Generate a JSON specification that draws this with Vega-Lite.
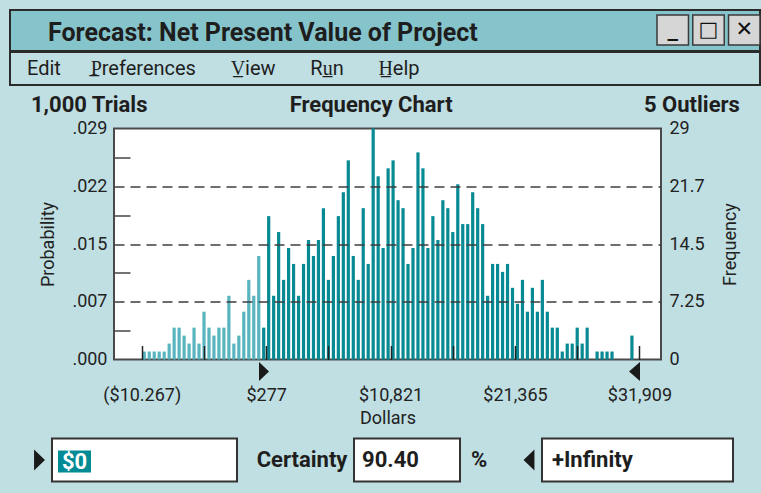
{
  "$schema": "https://vega.github.io/schema/vega-lite/v6.json",
  "background": "#c0dfe3",
  "padding": {"left": 9, "top": 9, "right": 0, "bottom": 13},
  "config": {
    "font": "Roboto",
    "view": {"stroke": null},
    "axis": {"labelFont": "Roboto", "titleFont": "Roboto", "labelColor": "#222", "titleColor": "#222"},
    "title": {"font": "Roboto"}
  },
  "spacing": 6.5,
  "vconcat": [
    {
      "spacing": -2,
      "vconcat": [
        {
          "width": 750, "height": 41,
          "view": {"fill": "#86c4cc", "stroke": "#2b2b2b", "strokeWidth": 2},
          "layer": [
            {
              "data": {"values": [{"window": "Forecast: Net Present Value of Project"}]},
              "mark": {"type": "text", "align": "left", "baseline": "middle", "fontSize": 25, "fontWeight": "bold", "color": "#1e1e1e"},
              "encoding": {
                "x": {"field": "window", "type": "nominal", "scale": {"type": "point", "align": 0.0507}, "axis": null},
                "y": {"field": "window", "type": "nominal", "scale": {"type": "point", "align": 0.57}, "axis": null},
                "text": {"field": "window"}
              }
            },
            {
              "data": {"values": [
                {"button": "Minimize", "glyph": "_"},
                {"button": "Maximize", "glyph": "□"},
                {"button": "Close", "glyph": "✕"}
              ]},
              "encoding": {
                "x": {"field": "button", "type": "nominal", "sort": null, "scale": {"type": "band", "range": [647, 750], "paddingInner": 0.12, "paddingOuter": 0}, "axis": null},
                "y": {"datum": "button", "type": "nominal", "scale": {"type": "band", "range": [5, 35], "paddingInner": 0, "paddingOuter": 0}, "axis": null}
              },
              "layer": [
                {"mark": {"type": "rect", "fill": "#d6d6d6", "stroke": "#3a3a3a", "strokeWidth": 1.5}},
                {"mark": {"type": "text", "font": "DejaVu Sans", "fontSize": 21, "fontWeight": "bold", "color": "#111"}, "encoding": {"text": {"field": "glyph"}}}
              ]
            }
          ],
          "resolve": {"scale": {"x": "independent", "y": "independent"}}
        },
        {
          "width": 750, "height": 33,
          "view": {"fill": "#c0dfe3", "stroke": "#2b2b2b", "strokeWidth": 2},
          "data": {"values": [{"menu": "Edit\u00a0\u00a0\u00a0\u00a0\u00a0\u00a0P\u0332references\u00a0\u00a0\u00a0\u00a0\u00a0\u00a0\u00a0V\u0332iew\u00a0\u00a0\u00a0\u00a0\u00a0\u00a0\u00a0Ru\u0332n\u00a0\u00a0\u00a0\u00a0\u00a0\u00a0\u00a0H\u0332elp"}]},
          "mark": {"type": "text", "align": "left", "fontSize": 20, "color": "#1e1e1e"},
          "encoding": {
            "x": {"field": "menu", "type": "nominal", "scale": {"type": "point", "align": 0.0227}, "axis": null},
            "text": {"field": "menu"}
          }
        }
      ]
    },
    {
      "spacing": 9,
      "vconcat": [
        {
          "spacing": 0,
          "hconcat": [
            {"width": 20, "height": 1, "data": {"values": []}, "mark": "point"},
            {
              "width": 547, "height": 231,
              "view": {"fill": "white", "stroke": "#4a4a4a", "strokeWidth": 2},
              "title": {
                "text": "1,000 Trials\u00a0\u00a0\u00a0\u00a0\u00a0\u00a0\u00a0\u00a0\u00a0\u00a0\u00a0\u00a0\u00a0\u00a0\u00a0\u00a0\u00a0\u00a0\u00a0\u00a0\u00a0\u00a0\u00a0\u00a0\u00a0\u00a0Frequency Chart\u00a0\u00a0\u00a0\u00a0\u00a0\u00a0\u00a0\u00a0\u00a0\u00a0\u00a0\u00a0\u00a0\u00a0\u00a0\u00a0\u00a0\u00a0\u00a0\u00a0\u00a0\u00a0\u00a0\u00a0\u00a0\u00a0\u00a0\u00a0\u00a0\u00a0\u00a0\u00a0\u00a0\u00a0\u00a05 Outliers",
                "anchor": "start", "frame": "group", "dx": -83, "offset": 2.5,
                "fontSize": 22, "fontWeight": "bold", "color": "#1e1e1e"
              },
              "layer": [
                {
                  "data": {"values": [
                    {"dollars": -10056, "frequency": 1}, {"dollars": -9634, "frequency": 1}, {"dollars": -9213, "frequency": 1},
                    {"dollars": -8791, "frequency": 1}, {"dollars": -8369, "frequency": 1}, {"dollars": -7947, "frequency": 2},
                    {"dollars": -7526, "frequency": 4}, {"dollars": -7104, "frequency": 4}, {"dollars": -6682, "frequency": 3},
                    {"dollars": -6260, "frequency": 2}, {"dollars": -5839, "frequency": 4}, {"dollars": -5417, "frequency": 2},
                    {"dollars": -4995, "frequency": 6}, {"dollars": -4573, "frequency": 4}, {"dollars": -4152, "frequency": 3},
                    {"dollars": -3730, "frequency": 4}, {"dollars": -3308, "frequency": 4}, {"dollars": -2886, "frequency": 8},
                    {"dollars": -2464, "frequency": 2}, {"dollars": -2043, "frequency": 3}, {"dollars": -1621, "frequency": 6},
                    {"dollars": -1199, "frequency": 10}, {"dollars": -777, "frequency": 8}, {"dollars": -356, "frequency": 13},
                    {"dollars": 66, "frequency": 4}, {"dollars": 488, "frequency": 18}, {"dollars": 909, "frequency": 8},
                    {"dollars": 1331, "frequency": 16}, {"dollars": 1753, "frequency": 10}, {"dollars": 2175, "frequency": 14},
                    {"dollars": 2597, "frequency": 12}, {"dollars": 3018, "frequency": 8}, {"dollars": 3440, "frequency": 12},
                    {"dollars": 3862, "frequency": 15}, {"dollars": 4284, "frequency": 13}, {"dollars": 4706, "frequency": 15},
                    {"dollars": 5127, "frequency": 19}, {"dollars": 5549, "frequency": 10}, {"dollars": 5971, "frequency": 13},
                    {"dollars": 6393, "frequency": 18}, {"dollars": 6814, "frequency": 21}, {"dollars": 7236, "frequency": 25},
                    {"dollars": 7658, "frequency": 13}, {"dollars": 8080, "frequency": 10}, {"dollars": 8501, "frequency": 19},
                    {"dollars": 8923, "frequency": 12}, {"dollars": 9345, "frequency": 29}, {"dollars": 9767, "frequency": 23},
                    {"dollars": 10188, "frequency": 14}, {"dollars": 10610, "frequency": 24}, {"dollars": 11032, "frequency": 25},
                    {"dollars": 11454, "frequency": 20}, {"dollars": 11875, "frequency": 19}, {"dollars": 12297, "frequency": 12},
                    {"dollars": 12719, "frequency": 14}, {"dollars": 13141, "frequency": 26}, {"dollars": 13562, "frequency": 24},
                    {"dollars": 13984, "frequency": 14}, {"dollars": 14406, "frequency": 18}, {"dollars": 14828, "frequency": 15},
                    {"dollars": 15250, "frequency": 20}, {"dollars": 15671, "frequency": 19}, {"dollars": 16093, "frequency": 16},
                    {"dollars": 16515, "frequency": 22}, {"dollars": 16937, "frequency": 17}, {"dollars": 17358, "frequency": 17},
                    {"dollars": 17780, "frequency": 21}, {"dollars": 18202, "frequency": 19}, {"dollars": 18623, "frequency": 17},
                    {"dollars": 19045, "frequency": 8}, {"dollars": 19467, "frequency": 12}, {"dollars": 19889, "frequency": 12},
                    {"dollars": 20311, "frequency": 11}, {"dollars": 20732, "frequency": 12}, {"dollars": 21154, "frequency": 9},
                    {"dollars": 21576, "frequency": 7}, {"dollars": 21998, "frequency": 10}, {"dollars": 22419, "frequency": 6},
                    {"dollars": 22841, "frequency": 9}, {"dollars": 23263, "frequency": 6}, {"dollars": 23685, "frequency": 10},
                    {"dollars": 24106, "frequency": 6}, {"dollars": 24528, "frequency": 4}, {"dollars": 24950, "frequency": 4},
                    {"dollars": 25372, "frequency": 1}, {"dollars": 25793, "frequency": 2}, {"dollars": 26215, "frequency": 2},
                    {"dollars": 26637, "frequency": 4}, {"dollars": 27059, "frequency": 2}, {"dollars": 27481, "frequency": 4},
                    {"dollars": 27902, "frequency": 0}, {"dollars": 28324, "frequency": 1}, {"dollars": 28746, "frequency": 1},
                    {"dollars": 29168, "frequency": 1}, {"dollars": 29589, "frequency": 1}, {"dollars": 30011, "frequency": 0},
                    {"dollars": 30433, "frequency": 0}, {"dollars": 30855, "frequency": 0}, {"dollars": 31276, "frequency": 3},
                    {"dollars": 31698, "frequency": 0}
                  ]},
                  "mark": {"type": "bar", "width": 3.2},
                  "encoding": {
                    "x": {
                      "field": "dollars", "type": "quantitative",
                      "scale": {"domain": [-12623, 33740], "nice": false, "zero": false, "padding": 0},
                      "axis": {
                        "title": "Dollars",
                        "values": [-10267, -4995, 277, 5549, 10821, 16093, 21365, 26637, 31909],
                        "labelExpr": "datum.value == -10267 ? '($10.267)' : datum.value == 277 ? '$277' : datum.value == 10821 ? '$10,821' : datum.value == 21365 ? '$21,365' : datum.value == 31909 ? '$31,909' : ''",
                        "tickSize": -14, "tickColor": "#222", "tickWidth": 1.5,
                        "domain": false, "grid": false,
                        "labelPadding": 40.5, "labelFontSize": 18, "labelFlush": false, "labelOverlap": false,
                        "titleFontSize": 18, "titleFontWeight": "normal", "titlePadding": 5,
                        "zindex": 1
                      }
                    },
                    "y": {
                      "field": "frequency", "type": "quantitative",
                      "scale": {"domain": [0, 29], "nice": false},
                      "axis": {
                        "orient": "left", "title": "Probability",
                        "values": [0, 3.625, 7.25, 10.875, 14.5, 18.125, 21.75, 25.375, 29],
                        "labelExpr": "datum.value == 0 ? '.000' : datum.value == 7.25 ? '.007' : datum.value == 14.5 ? '.015' : datum.value == 21.75 ? '.022' : datum.value == 29 ? '.029' : ''",
                        "tickSize": -16, "tickColor": "#444", "tickWidth": 1.5,
                        "tickOpacity": {"condition": {"test": "datum.value % 7.25 == 0", "value": 0}, "value": 1},
                        "grid": true, "gridColor": "#3d3d3d", "gridDash": [10, 6], "gridWidth": 1.5,
                        "gridOpacity": {"condition": {"test": "datum.value > 0 && datum.value < 29 && datum.value % 7.25 == 0", "value": 1}, "value": 0},
                        "domain": false,
                        "labelPadding": 23, "labelFontSize": 18, "labelOverlap": false,
                        "titleFontSize": 18, "titleFontWeight": "normal", "titlePadding": 14,
                        "zindex": 1
                      }
                    },
                    "color": {"condition": {"test": "datum.dollars < 0", "value": "#58b4bf"}, "value": "#078a93"}
                  }
                },
                {
                  "data": {"values": [
                    {"bound": "Lower certainty bound", "dollars": 0},
                    {"bound": "Upper certainty bound", "dollars": 31909}
                  ]},
                  "mark": {"type": "point", "filled": true, "size": 400, "opacity": 1, "strokeWidth": 0},
                  "encoding": {
                    "x": {"field": "dollars", "type": "quantitative"},
                    "y": {
                      "datum": 0, "type": "quantitative",
                      "axis": {
                        "orient": "right", "title": "Frequency",
                        "values": [0, 7.25, 14.5, 21.75, 29],
                        "labelExpr": "datum.value == 0 ? '0' : datum.value == 7.25 ? '7.25' : datum.value == 14.5 ? '14.5' : datum.value == 21.75 ? '21.7' : '29'",
                        "ticks": false, "domain": false, "grid": false,
                        "labelPadding": 8, "labelFontSize": 18, "labelOverlap": false,
                        "titleFontSize": 18, "titleFontWeight": "normal", "titleAngle": 270, "titlePadding": 35
                      }
                    },
                    "shape": {
                      "field": "bound", "type": "nominal",
                      "scale": {"domain": ["Lower certainty bound", "Upper certainty bound"], "range": ["M-0.39,0.25L0.61,1.2L-0.39,2.15Z", "M0.06,0.25L-1.04,1.2L0.06,2.15Z"]},
                      "legend": null
                    },
                    "color": {"value": "#1a1a1a"}
                  }
                }
              ],
              "resolve": {"axis": {"y": "independent"}}
            }
          ]
        },
        {
          "spacing": 0,
          "hconcat": [
            {
              "width": 41, "height": 43,
              "data": {"values": [{"bound": "Lower"}]},
              "mark": {"type": "point", "filled": true, "size": 441, "opacity": 1, "strokeWidth": 0, "color": "#1a1a1a", "shape": "M-0.52,-1L0.52,0L-0.52,1Z"},
              "encoding": {"x": {"field": "bound", "type": "nominal", "scale": {"type": "point", "align": 0.72}, "axis": null}}
            },
            {
              "width": 185, "height": 43,
              "view": {"fill": "white", "stroke": "#333", "strokeWidth": 2},
              "data": {"values": [{"lowerBound": "$0"}]},
              "encoding": {
                "x": {"field": "lowerBound", "type": "nominal", "scale": {"type": "band", "range": [6, 39], "paddingInner": 0, "paddingOuter": 0}, "axis": null},
                "y": {"field": "lowerBound", "type": "nominal", "scale": {"type": "band", "range": [12, 34], "paddingInner": 0, "paddingOuter": 0}, "axis": null}
              },
              "layer": [
                {"mark": {"type": "rect", "color": "#008b95"}},
                {"mark": {"type": "text", "color": "white", "fontSize": 22, "fontWeight": "bold"}, "encoding": {"text": {"field": "lowerBound"}}}
              ]
            },
            {
              "width": 115, "height": 43,
              "data": {"values": [{"label": "Certainty"}]},
              "mark": {"type": "text", "fontSize": 22, "fontWeight": "bold", "color": "#1e1e1e"},
              "encoding": {
                "x": {"field": "label", "type": "nominal", "scale": {"type": "point", "align": 0.557}, "axis": null},
                "text": {"field": "label"}
              }
            },
            {
              "width": 106, "height": 43,
              "view": {"fill": "white", "stroke": "#333", "strokeWidth": 2},
              "data": {"values": [{"certainty": "90.40"}]},
              "mark": {"type": "text", "align": "left", "fontSize": 22, "fontWeight": "bold", "color": "#1e1e1e"},
              "encoding": {
                "x": {"field": "certainty", "type": "nominal", "scale": {"type": "point", "align": 0.0755}, "axis": null},
                "text": {"field": "certainty"}
              }
            },
            {
              "width": 80, "height": 43,
              "layer": [
                {
                  "data": {"values": [{"unit": "%"}]},
                  "mark": {"type": "text", "fontSize": 22, "fontWeight": "bold", "color": "#1e1e1e"},
                  "encoding": {
                    "x": {"field": "unit", "type": "nominal", "scale": {"type": "point", "align": 0.225}, "axis": null},
                    "text": {"field": "unit"}
                  }
                },
                {
                  "data": {"values": [{"bound": "Upper"}]},
                  "mark": {"type": "point", "filled": true, "size": 441, "opacity": 1, "strokeWidth": 0, "color": "#1a1a1a", "shape": "M0.52,-1L-0.52,0L0.52,1Z"},
                  "encoding": {"x": {"field": "bound", "type": "nominal", "scale": {"type": "point", "align": 0.85}, "axis": null}}
                }
              ],
              "resolve": {"scale": {"x": "independent"}}
            },
            {
              "width": 191, "height": 43,
              "view": {"fill": "white", "stroke": "#333", "strokeWidth": 2},
              "data": {"values": [{"upperBound": "+Infinity"}]},
              "mark": {"type": "text", "align": "left", "fontSize": 22, "fontWeight": "bold", "color": "#1e1e1e"},
              "encoding": {
                "x": {"field": "upperBound", "type": "nominal", "scale": {"type": "point", "align": 0.052}, "axis": null},
                "text": {"field": "upperBound"}
              }
            }
          ]
        }
      ]
    }
  ]
}
